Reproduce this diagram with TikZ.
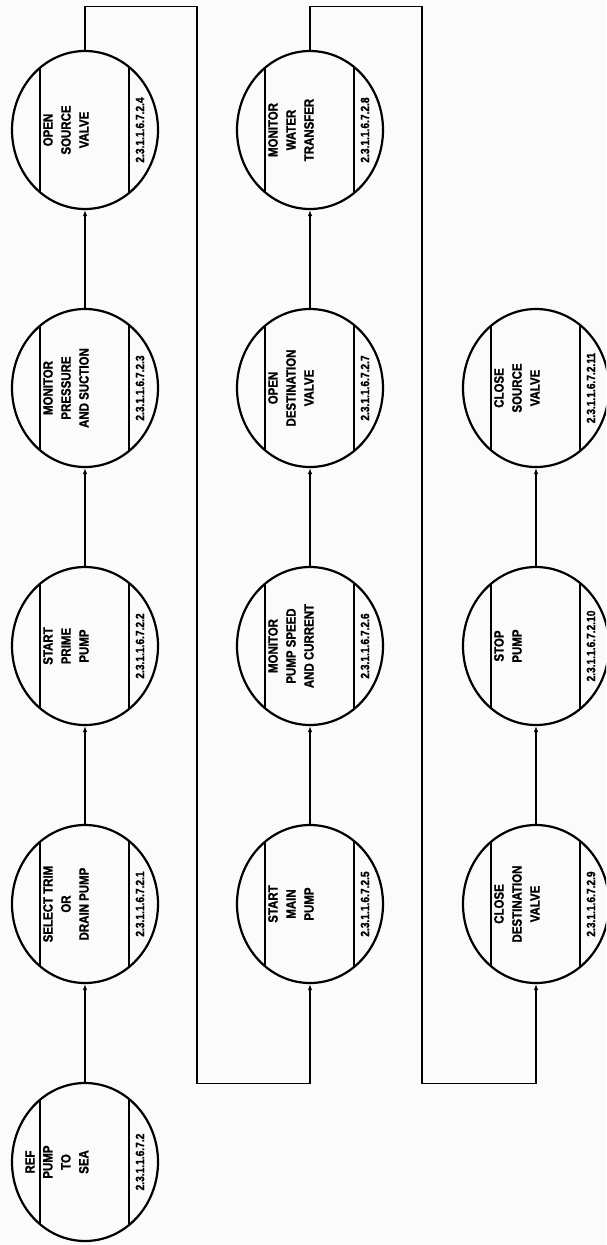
\documentclass[tikz,border=0pt]{standalone}
\usepackage{fontspec}
\newfontfamily\lbl{Liberation Sans}[FakeStretch=0.85, FakeBold=1.2]
\usetikzlibrary{shapes.geometric,arrows.meta}
\newcommand\procnode[5]{%
  \node[proc] (#1) at (#2,#3) {};
  \draw[chord] ([shift={(-45pt,-62pt)}]#1.center) -- ([shift={(-45pt,62pt)}]#1.center);
  \draw[chord] ([shift={(44pt,-63pt)}]#1.center) -- ([shift={(44pt,63pt)}]#1.center);
  \node[maintext] (#1t) at ([xshift=-42pt]#1.center) {#4};
  \node[numtext] (#1n) at ([xshift=55pt]#1.center) {#5};
}
\begin{document}
\begin{tikzpicture}[x=1pt,y=-1pt,
  proc/.style={ellipse, draw, line width=2.2pt, minimum width=146pt, minimum height=158pt, inner sep=0pt},
  maintext/.style={rotate=90, anchor=north, align=center, inner sep=0pt,
    font=\lbl\bfseries\fontsize{13.5}{18}\selectfont},
  numtext/.style={rotate=90, inner sep=0pt, font=\lbl\bfseries\fontsize{12}{14}\selectfont},
  chord/.style={line width=1.3pt},
  flow/.style={line width=1.3pt, -{Latex[length=6pt,width=4.5pt]}}]
\useasboundingbox (0,0) rectangle (606,1245);
\clip (0,0) rectangle (606,1245);
\fill[gray!3] (0,0) rectangle (606,1245);
% column 1
\procnode{a1}{85}{130}{OPEN\\SOURCE\\VALVE}{2.3.1.1.6.7.2.4}
\procnode{a2}{85}{388}{MONITOR\\PRESSURE\\AND SUCTION}{2.3.1.1.6.7.2.3}
\procnode{a3}{85}{646}{START\\PRIME\\PUMP}{2.3.1.1.6.7.2.2}
\procnode{a4}{85}{904}{SELECT TRIM\\OR\\DRAIN PUMP}{2.3.1.1.6.7.2.1}
\procnode{a5}{85}{1162}{PUMP\\TO\\SEA}{2.3.1.1.6.7.2}
\node[numtext, font=\lbl\bfseries\fontsize{13.5}{18}\selectfont] (a5r) at ([xshift=-55pt]a5.center) {REF};
% column 2
\procnode{b1}{310}{130}{MONITOR\\WATER\\TRANSFER}{2.3.1.1.6.7.2.8}
\procnode{b2}{310}{388}{OPEN\\DESTINATION\\VALVE}{2.3.1.1.6.7.2.7}
\procnode{b3}{310}{646}{MONITOR\\PUMP SPEED\\AND CURRENT}{2.3.1.1.6.7.2.6}
\procnode{b4}{310}{904}{START\\MAIN\\PUMP}{2.3.1.1.6.7.2.5}
% column 3
\procnode{c2}{536}{388}{CLOSE\\SOURCE\\VALVE}{2.3.1.1.6.7.2.11}
\procnode{c3}{536}{646}{STOP\\PUMP}{2.3.1.1.6.7.2.10}
\procnode{c4}{536}{904}{CLOSE\\DESTINATION\\VALVE}{2.3.1.1.6.7.2.9}
% connectors
\draw[flow] (a5) -- (a4);
\draw[flow] (a4) -- (a3);
\draw[flow] (a3) -- (a2);
\draw[flow] (a2) -- (a1);
\draw[flow] (b4) -- (b3);
\draw[flow] (b3) -- (b2);
\draw[flow] (b2) -- (b1);
\draw[flow] (c4) -- (c3);
\draw[flow] (c3) -- (c2);
\coordinate (k1) at (197,6.7);
\coordinate (k2) at (197,1083.3);
\coordinate (k3) at (422,6.7);
\coordinate (k4) at (422,1083.3);
\draw[flow] (a1.north) |- (k1) -- (k2) -| (b4.south);
\draw[flow] (b1.north) |- (k3) -- (k4) -| (c4.south);
\end{tikzpicture}
\end{document}
